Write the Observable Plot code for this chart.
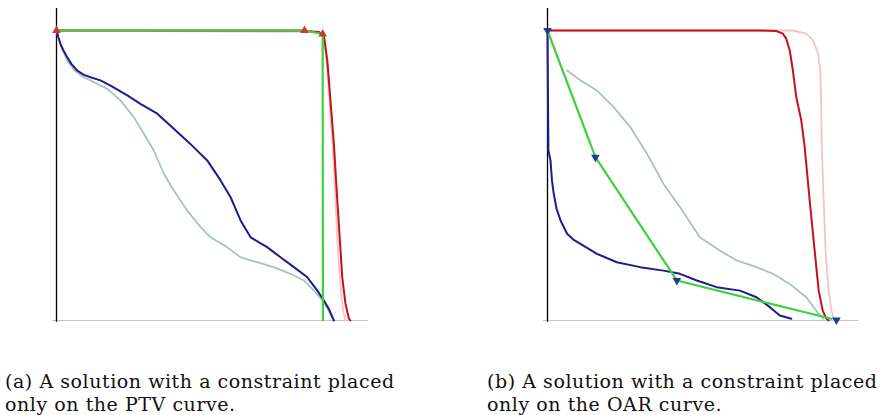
<!DOCTYPE html>
<html>
<head>
<meta charset="utf-8">
<script src="https://cdn.jsdelivr.net/npm/d3@7"></script>
<script src="https://cdn.jsdelivr.net/npm/@observablehq/plot@0.6"></script>
<style>
  html, body { margin: 0; padding: 0; background: #fff; }
  #wrap { position: relative; width: 882px; height: 415px; overflow: hidden; }
  .panel { position: absolute; top: 0; }
  .cap { position: absolute; font-family: "DejaVu Serif", "Liberation Serif", serif; font-size: 19px; line-height: 22.5px; letter-spacing: 0.55px; color: #111; white-space: nowrap; }
</style>
</head>
<body>
<div id="wrap">
  <div id="pa" class="panel" style="left:0px"></div>
  <div id="pb" class="panel" style="left:441px"></div>
  <div class="cap" style="left:5px; top:370px">(a) A solution with a constraint placed<br>only on the PTV curve.</div>
  <div class="cap" style="left:487px; top:370px">(b) A solution with a constraint placed<br>only on the OAR curve.</div>
</div>
<script>
// Dose (% of axis) vs. volume (%) — panel (a): constraint on PTV
const aPTV = [[0,100],[78.2,100],[84.0,99.5],[85.7,98.3],[86.8,89.7],[87.8,75.9],[88.9,61.0],[90.0,41.4],[91.6,14.8],[92.6,5.9],[93.7,0.7],[94.2,0]];
const aPTVref = [[0,100],[84.0,99.5],[85.6,97.9],[86.5,89.7],[87.5,75.9],[88.5,61.0],[89.4,41.4],[90.4,20.7],[91.3,8.6],[92.0,2.8],[92.6,0]];
const aOAR = [[0,100],[0.64,97.6],[1.28,95.4],[2.24,93.1],[3.43,90.8],[4.81,88.4],[6.63,86.2],[8.65,84.8],[10.9,83.9],[14.1,82.8],[17.3,81.0],[22.7,77.6],[26.9,74.7],[32.3,71.3],[37.6,66.1],[42.9,60.9],[48.3,55.2],[52.6,48.3],[55.8,42.5],[59.0,34.5],[62.2,28.7],[67.5,25.3],[71.8,21.8],[76.1,18.4],[80.4,14.9],[83.6,10.3],[85.7,6.9],[87.3,4.0],[88.9,0]];
const aOARref = [[0,100],[0.64,97.2],[1.6,94.1],[3.43,89.7],[5.77,86.2],[8.75,83.9],[11.96,82.2],[16.25,79.9],[20.5,75.9],[24.8,70.1],[28.0,64.4],[31.2,58.6],[34.4,50.6],[37.6,44.8],[41.9,37.9],[46.2,32.2],[49.4,28.7],[54.7,25.3],[59.0,21.8],[64.3,20.1],[69.6,18.4],[75.0,16.1],[79.3,13.8],[82.5,10.3],[85.2,6.9],[86.9,4.1],[88.1,1.4]];
const aConstraint = [[0,100],[79.5,100],[85.3,98.8],[85.4,0]];
const aHandles = [[0,100],[79.5,100],[85.3,98.8]];

// panel (b): constraint on OAR
const bPTV = [[0,100],[68.3,100],[73.6,99.8],[75.7,98.9],[76.8,97.1],[77.9,93.1],[78.9,86.2],[80.0,77.0],[81.6,69.0],[82.7,59.8],[84.3,41.4],[85.9,24.1],[87.2,10.3],[88.5,3.4],[89.6,0.7],[90.4,0]];
const bPTVref = [[0,100],[78.9,100],[83.2,98.9],[85.4,96.6],[87.0,92.0],[87.7,86.2],[88.0,74.7],[88.2,59.8],[88.8,41.4],[89.4,24.1],[90.4,10.3],[91.3,3.4],[92.0,0.7],[92.6,0]];
const bOAR = [[0,100],[0.16,75.9],[0.3,58.6],[0.96,55.2],[1.44,48.3],[2.0,43.7],[2.9,38.6],[4.2,34.5],[6.3,29.9],[8.3,27.9],[10.6,26.4],[15.9,23.0],[22.3,20.1],[29.8,18.4],[37.3,17.2],[42.6,16.1],[48.0,13.8],[54.4,11.5],[61.9,10.3],[67.2,8.0],[71.5,4.6],[74.7,1.7],[78.4,0.6]];
const bOARref = [[6.3,86.2],[10.6,82.8],[15.9,79.3],[21.3,73.6],[26.6,66.7],[32.0,57.5],[37.3,47.1],[42.6,39.1],[49.0,28.7],[55.4,24.1],[60.8,20.7],[67.2,18.4],[72.5,16.1],[77.9,12.6],[83.2,8.0],[86.4,3.4],[88.6,0.6]];
const bConstraint = [[0,100],[15.4,56.3],[41.6,13.8],[91.3,0.6]];
const bHandles = [[0,100],[15.4,56.3],[41.6,13.8],[92.9,0.2]];

const C = { ptv: "#c3121c", ptvRef: "#f0c4c4", oar: "#1d1d8e", oarRef: "#a6c6bb", green: "#3cd23c", axis: "#000", base: "#c4c4c4" };

function panel(o) {
  const row = ([x, y]) => ({x, y});
  return Plot.plot({
    width: 441, height: 335,
    marginLeft: o.ml, marginRight: o.mr, marginTop: 30, marginBottom: 15,
    x: {domain: [0, 100], axis: null},
    y: {domain: [0, 100], axis: null},
    marks: [
      Plot.ruleY([0], {x1: -1.3, x2: 100, stroke: C.base, strokeWidth: 1.2}),
      Plot.ruleX([0], {y1: -0.6, y2: 107.6, stroke: C.axis, strokeWidth: 1.3}),
      Plot.line(o.oarRef.map(row), {x: "x", y: "y", stroke: C.oarRef, strokeWidth: 1.8}),
      Plot.line(o.ptvRef.map(row), {x: "x", y: "y", stroke: C.ptvRef, strokeWidth: 1.8}),
      Plot.line(o.oar.map(row), {x: "x", y: "y", stroke: C.oar, strokeWidth: 2}),
      Plot.line(o.ptv.map(row), {x: "x", y: "y", stroke: C.ptv, strokeWidth: 2}),
      Plot.line(o.constraint.map(row), {x: "x", y: "y", stroke: C.green, strokeWidth: 2.2}),
      Plot.dot(o.handles.map(row), {x: "x", y: "y", symbol: "triangle", r: 3.2, fill: o.handleColor, stroke: "none", rotate: o.rotate})
    ]
  });
}

document.getElementById("pa").appendChild(panel({ml: 56, mr: 73, ptv: aPTV, ptvRef: aPTVref, oar: aOAR, oarRef: aOARref, constraint: aConstraint, handles: aHandles, handleColor: "#c83a3a", rotate: 0}));
document.getElementById("pb").appendChild(panel({ml: 106, mr: 24, ptv: bPTV, ptvRef: bPTVref, oar: bOAR, oarRef: bOARref, constraint: bConstraint, handles: bHandles, handleColor: "#1d3a9e", rotate: 180}));
</script>
</body>
</html>
